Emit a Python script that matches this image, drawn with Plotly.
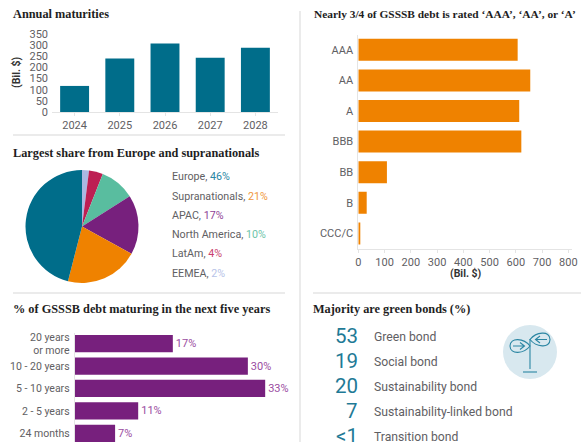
import plotly.graph_objects as go

W, H = 581, 442
BODY = "Roboto"
SERIF = "Liberation Serif"
GREY = "#5f6063"
RULE = "#e4e4e4"
TEAL = "#006d8a"
ORANGE = "#ef8200"
PURPLE = "#77207d"

years = ["2024", "2025", "2026", "2027", "2028"]
maturities = [117, 240, 307, 243, 288]

regions = ["Europe", "Supranationals", "APAC", "North America", "LatAm", "EEMEA"]
region_share = [46, 21, 17, 10, 4, 2]
region_colors = [TEAL, ORANGE, PURPLE, "#59bd9f", "#bd1f53", "#aab8e3"]
region_text_colors = ["#2b86a3", "#f0963a", "#8f3f96", "#6cc4a9", "#c93f6e", "#b7c3e8"]

tenors = ["20 years<br>or more", "10 - 20 years", "5 - 10 years", "2 - 5 years", "24 months"]
tenor_share = [17, 30, 33, 11, 7]

ratings = ["AAA", "AA", "A", "BBB", "BB", "B", "CCC/C"]
rating_debt = [607, 655, 613, 621, 109, 32, 6]

bond_values = ["53", "19", "20", "7", "<1"]
bond_types = ["Green bond", "Social bond", "Sustainability bond",
              "Sustainability-linked bond", "Transition bond"]


def px(x):
    return x / W


def py(y):
    return 1 - y / H


def dom_x(a, b):
    return [px(a), px(b)]


def dom_y(top, bottom):
    return [py(bottom), py(top)]


def point(x, y):
    return f"{px(x):.5f} {py(y):.5f}"


fig = go.Figure()

fig.add_bar(x=years, y=maturities, marker_color=TEAL, marker_line_width=0, width=0.64,
            xaxis="x", yaxis="y", hoverinfo="skip")

# Slices run clockwise from twelve o'clock, smallest region first
fig.add_pie(labels=regions[::-1], values=region_share[::-1], sort=False, direction="clockwise",
            rotation=0, marker=dict(colors=region_colors[::-1], line=dict(width=0)),
            textinfo="none", hoverinfo="skip", showlegend=False,
            domain=dict(x=dom_x(25.5, 138.5), y=dom_y(170, 283)))

fig.add_bar(y=tenors, x=tenor_share, orientation="h", marker_color=PURPLE, marker_line_width=0,
            width=0.77, text=[f"{v}%" for v in tenor_share], textposition="outside",
            cliponaxis=False, constraintext="none",
            textfont=dict(family=BODY, size=11, color="#9a4ca1"),
            xaxis="x2", yaxis="y2", hoverinfo="skip")

fig.add_bar(y=ratings, x=rating_debt, orientation="h", marker_color=ORANGE, marker_line_width=0,
            width=0.72, xaxis="x3", yaxis="y3", hoverinfo="skip")

tick = dict(family=BODY, size=11, color=GREY)
axis_base = dict(showgrid=False, zeroline=False, tickfont=tick, linecolor=RULE, linewidth=1,
                 ticks="outside", tickcolor=RULE, ticklen=3, fixedrange=True, automargin=False)

annotations = []


def label(x, y, text, size=11, color=GREY, family=BODY, anchor="left", angle=0):
    annotations.append(dict(x=px(x), y=py(y), xref="paper", yref="paper", text=text,
                            showarrow=False, xanchor=anchor, yanchor="middle",
                            textangle=angle, borderpad=0, borderwidth=0,
                            font=dict(family=family, size=size, color=color)))


def heading(x, y, text, size=12.3):
    label(x, y, f"<b>{text}</b>", size=size, color="#1e1e1e", family=SERIF)


heading(13, 14, "Annual maturities")
heading(13, 153, "Largest share from Europe and supranationals")
heading(13, 309, "% of GSSSB debt maturing in the next five years")
heading(314, 14, "Nearly 3/4 of GSSSB debt is rated ‘AAA’, ‘AA’, or ‘A’", size=11.4)
heading(313, 309, "Majority are green bonds (%)")

label(17, 72, "<b>(Bil. $)</b>", size=10.5, color="#333333", anchor="center", angle=-90)
label(465.5, 273, "<b>(Bil. $)</b>", size=10.5, color="#333333", anchor="center")

for i, (name, share) in enumerate(zip(regions, region_share)):
    label(172, 176.7 + i * 19.3,
          f"{name}, <span style='color:{region_text_colors[i]}'>{share}%</span>", size=10.7)

bond_rows = [336, 361, 386, 411, 436]
for row, value, kind in zip(bond_rows, bond_values, bond_types):
    label(358, row, value, size=20.5, color="#1f7a96", anchor="right")
    label(373.5, row + 1, kind, size=12.2)

shapes = []


def rule(x0, y0, x1, y1, color=RULE, width=1.5):
    shapes.append(dict(type="line", xref="paper", yref="paper",
                       x0=px(x0), y0=py(y0), x1=px(x1), y1=py(y1),
                       line=dict(color=color, width=width)))


rule(13, 135, 285, 135)
rule(13, 293, 285, 293)
rule(313, 293, 581, 293)
rule(300, 11, 300, 442)

# Wind-turbine badge beside the bond list
shapes.append(dict(type="circle", xref="paper", yref="paper",
                   x0=px(503), y0=py(379), x1=px(557), y1=py(325),
                   fillcolor="#d8e8ef", line=dict(width=0)))
ICON = "#2b86a3"


def icon_path(d):
    shapes.append(dict(type="path", xref="paper", yref="paper", path=d,
                       line=dict(color=ICON, width=1.1), fillcolor="rgba(0,0,0,0)"))


icon_path(f"M {point(530, 346)} C {point(524, 338)} {point(510, 337)} {point(510, 346)} "
          f"C {point(510, 355)} {point(524, 354)} {point(530, 346)} Z")
icon_path(f"M {point(530, 339.5)} C {point(536, 347)} {point(550, 349)} {point(550, 339.5)} "
          f"C {point(550, 330)} {point(536, 332)} {point(530, 339.5)} Z")
icon_path(f"M {point(513, 346)} L {point(525, 346)} M {point(520, 342.5)} L {point(524.5, 346)} L {point(520, 349.5)}")
icon_path(f"M {point(547, 339.5)} L {point(535, 339.5)} M {point(540, 336)} L {point(535.5, 339.5)} L {point(540, 343)}")
icon_path(f"M {point(530, 339)} L {point(530, 369)}")
icon_path(f"M {point(523, 372)} L {point(537, 372)}")

fig.update_layout(
    template="none",
    width=W, height=H, autosize=False,
    margin=dict(l=0, r=0, t=0, b=0, pad=0),
    paper_bgcolor="white", plot_bgcolor="white",
    showlegend=False,
    annotations=annotations, shapes=shapes,
    xaxis=dict(axis_base, domain=dom_x(52, 278), anchor="y", type="category",
               categoryorder="array", categoryarray=years, range=[-0.5, 4.5]),
    yaxis=dict(axis_base, domain=dom_y(34, 112), anchor="x", range=[0, 350], dtick=50,
               showline=False, ticks="", ticklabelstandoff=3),
    xaxis2=dict(axis_base, domain=dom_x(74.7, 290), anchor="y2", range=[0, 37.3],
                visible=False),
    yaxis2=dict(axis_base, domain=dom_y(332.5, 442), anchor="x2", type="category",
                categoryorder="array", categoryarray=tenors, range=[4.39, -0.5],
                ticks="", ticklabelstandoff=2, tickfont=dict(tick, size=10.5)),
    xaxis3=dict(axis_base, domain=dom_x(358.3, 572), anchor="y3", range=[0, 814], dtick=100),
    yaxis3=dict(axis_base, domain=dom_y(34.5, 248.7), anchor="x3", type="category",
                categoryorder="array", categoryarray=ratings, range=[6.5, -0.5],
                ticks="", ticklabelstandoff=2),
)

fig.write_html("out.html")
